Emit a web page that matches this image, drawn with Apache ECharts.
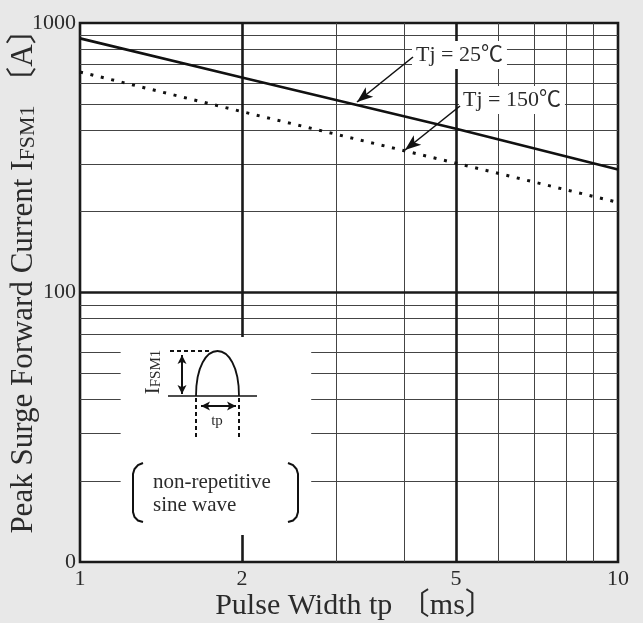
<!DOCTYPE html>
<html>
<head>
<meta charset="utf-8">
<script src="https://cdn.jsdelivr.net/npm/echarts@6/dist/echarts.min.js"></script>
<style>html,body{margin:0;padding:0;background:#e8e8e8;}#c{width:643px;height:623px;}</style>
</head>
<body>
<div id="c"></div>
<script>
// ---- data ----
const tpValues = [1, 2, 5, 10];
const tj25 = [877, 628, 405, 286];
const tj150 = [658, 469, 302, 216];
const xTickValues = [1, 2, 5, 10];
const xTickLabels = ['1', '2', '5', '10'];
const yTickValues = [10, 100, 1000];
const yTickLabels = ['0', '100', '1000'];
const xMinorGrid = [3, 4, 6, 7, 8, 9];
const xMajorGrid = [2, 5];
const yMinorGrid = [20, 30, 40, 50, 60, 70, 80, 90, 200, 300, 400, 500, 600, 700, 800, 900];
const yMajorGrid = [100];
const insetCorners = [[1.19, 12.6], [2.69, 68.4]];

const FONT = "'Liberation Serif', 'Noto Sans CJK JP', serif";
const TXT = '#2b2b2b';

function pairs(xs, ys) { return xs.map((x, i) => [x, ys[i]]); }

function head(x1, y1, x2, y2, len, half) {
  const dx = x2 - x1, dy = y2 - y1, L = Math.hypot(dx, dy);
  const ux = dx / L, uy = dy / L, nx = -uy, ny = ux;
  const bx = x2 - ux * len, by = y2 - uy * len;
  return [[x2, y2], [bx + nx * half, by + ny * half], [x2 - ux * len * 0.75, y2 - uy * len * 0.75], [bx - nx * half, by - ny * half]];
}
function arrow(x1, y1, x2, y2, len, half, w, both) {
  const els = [
    { type: 'line', z: 20, shape: { x1, y1, x2, y2 }, style: { stroke: '#111', lineWidth: w } },
    { type: 'polygon', z: 20, shape: { points: head(x1, y1, x2, y2, len, half) }, style: { fill: '#111' } }
  ];
  if (both) els.push({ type: 'polygon', z: 20, shape: { points: head(x2, y2, x1, y1, len, half) }, style: { fill: '#111' } });
  return els;
}

const gridLines = [];
xMinorGrid.forEach(v => gridLines.push({ xAxis: v, lineStyle: { color: '#444', width: 1, type: 'solid' } }));
yMinorGrid.forEach(v => gridLines.push({ yAxis: v, lineStyle: { color: '#444', width: 1, type: 'solid' } }));
xMajorGrid.forEach(v => gridLines.push({ xAxis: v, lineStyle: { color: '#1a1a1a', width: 2.6, type: 'solid' } }));
yMajorGrid.forEach(v => gridLines.push({ yAxis: v, lineStyle: { color: '#1a1a1a', width: 2.6, type: 'solid' } }));

const graphics = [
  { type: 'text', z: 20, x: 412, y: 55, style: { text: 'Tj = 25℃', font: '22px ' + FONT, fill: TXT, align: 'left', verticalAlign: 'middle', backgroundColor: '#fff', padding: [3, 4] } },
  { type: 'text', z: 20, x: 459, y: 100, style: { text: 'Tj = 150℃', font: '22px ' + FONT, fill: TXT, align: 'left', verticalAlign: 'middle', backgroundColor: '#fff', padding: [3, 4] } },
  ...arrow(413, 57, 357, 102, 16, 6, 1.6, false),
  ...arrow(460, 106, 405, 150, 16, 6, 1.6, false),
  // inset drawing
  { type: 'line', z: 20, shape: { x1: 168, y1: 396, x2: 257, y2: 396 }, style: { stroke: '#111', lineWidth: 1.6 } },
  { type: 'bezierCurve', z: 20, shape: { x1: 196, y1: 396, cpx1: 196, cpy1: 336, cpx2: 239, cpy2: 336, x2: 239, y2: 396 }, style: { stroke: '#111', lineWidth: 1.8, fill: null } },
  { type: 'line', z: 20, shape: { x1: 170, y1: 351, x2: 209, y2: 351 }, style: { stroke: '#111', lineWidth: 2, lineDash: [4, 3] } },
  { type: 'line', z: 20, shape: { x1: 196, y1: 398, x2: 196, y2: 437 }, style: { stroke: '#111', lineWidth: 2, lineDash: [4, 3] } },
  { type: 'line', z: 20, shape: { x1: 239, y1: 398, x2: 239, y2: 437 }, style: { stroke: '#111', lineWidth: 2, lineDash: [4, 3] } },
  ...arrow(182, 355, 182, 394, 9, 4.5, 2, true),
  ...arrow(201, 406, 236, 406, 9, 4.5, 2, true),
  { type: 'text', z: 20, x: 217, y: 421, style: { text: 'tp', font: '15px ' + FONT, fill: TXT, align: 'center', verticalAlign: 'middle' } },
  { type: 'text', z: 20, x: 153, y: 372, rotation: Math.PI / 2, style: { text: 'I{s|FSM1}', font: '21px ' + FONT, fill: TXT, align: 'center', verticalAlign: 'middle', rich: { s: { fontSize: 15, fontFamily: FONT, fill: TXT, verticalAlign: 'bottom' } } } },
  { type: 'polyline', z: 20, shape: { points: [[143, 463], [138, 465], [134.5, 469], [133, 474], [133, 512], [134.5, 517], [138, 520.5], [143, 522]] }, style: { stroke: '#111', lineWidth: 2, fill: null } },
  { type: 'polyline', z: 20, shape: { points: [[288, 463], [293, 465], [296.5, 469], [298, 474], [298, 512], [296.5, 517], [293, 520.5], [288, 522]] }, style: { stroke: '#111', lineWidth: 2, fill: null } },
  { type: 'text', z: 20, x: 153, y: 482, style: { text: 'non-repetitive', font: '21px ' + FONT, fill: TXT, align: 'left', verticalAlign: 'middle' } },
  { type: 'text', z: 20, x: 153, y: 505, style: { text: 'sine wave', font: '21px ' + FONT, fill: TXT, align: 'left', verticalAlign: 'middle' } }
];

const chart = echarts.init(document.getElementById('c'));
chart.setOption({
  animation: false,
  backgroundColor: '#e8e8e8',
  grid: { left: 80, top: 23, width: 538, height: 539, containLabel: false, outerBoundsMode: 'none', show: true, backgroundColor: '#fff', borderColor: '#1a1a1a', borderWidth: 2.6 },
  xAxis: {
    type: 'log', logBase: 10, min: 1, max: 10,
    name: 'Pulse Width tp 〔ms〕', nameLocation: 'middle', nameGap: 29, nameMoveOverlap: false,
    nameTextStyle: { fontSize: 30, fontFamily: FONT, color: TXT, padding: [0, 0, 0, 12] },
    axisLine: { show: false }, axisTick: { show: false }, splitLine: { show: false }, minorSplitLine: { show: false },
    axisLabel: { customValues: xTickValues, margin: 6, fontSize: 22, fontFamily: FONT, color: TXT,
      formatter: v => { const i = xTickValues.findIndex(t => Math.abs(t - v) < 1e-6); return i >= 0 ? xTickLabels[i] : ''; } }
  },
  yAxis: {
    type: 'log', logBase: 10, min: 10, max: 1000,
    name: 'Peak Surge Forward Current I{s|FSM1} 〔A〕', nameLocation: 'middle', nameRotate: 90, nameGap: 41, nameMoveOverlap: false,
    nameTextStyle: { fontSize: 31, fontFamily: FONT, color: TXT, padding: [0, 0, 0, 38], rich: { s: { fontSize: 22, fontFamily: FONT, color: TXT, verticalAlign: 'bottom' } } },
    axisLine: { show: false }, axisTick: { show: false }, splitLine: { show: false },
    axisLabel: { margin: 4, fontSize: 22, fontFamily: FONT, color: TXT,
      formatter: v => { const i = yTickValues.findIndex(t => Math.abs(t - v) < 1e-6); return i >= 0 ? yTickLabels[i] : ''; } }
  },
  series: [
    { type: 'line', z: 1, data: [], symbol: 'none', silent: true,
      markLine: { z: 1, silent: true, symbol: 'none', label: { show: false }, animation: false, data: gridLines } },
    { type: 'line', z: 2, data: [], symbol: 'none', silent: true,
      markArea: { z: 2, silent: true, itemStyle: { color: '#fff' }, data: [[{ coord: insetCorners[0] }, { coord: insetCorners[1] }]] } },
    { type: 'line', z: 5, name: 'Tj=25', data: pairs(tpValues, tj25), symbol: 'none', lineStyle: { color: '#111', width: 2.6 } },
    { type: 'line', z: 5, name: 'Tj=150', data: pairs(tpValues, tj150), symbol: 'none', lineStyle: { color: '#111', width: 3, type: [3, 7.7] } }
  ],
  graphic: graphics
});
</script>
</body>
</html>
